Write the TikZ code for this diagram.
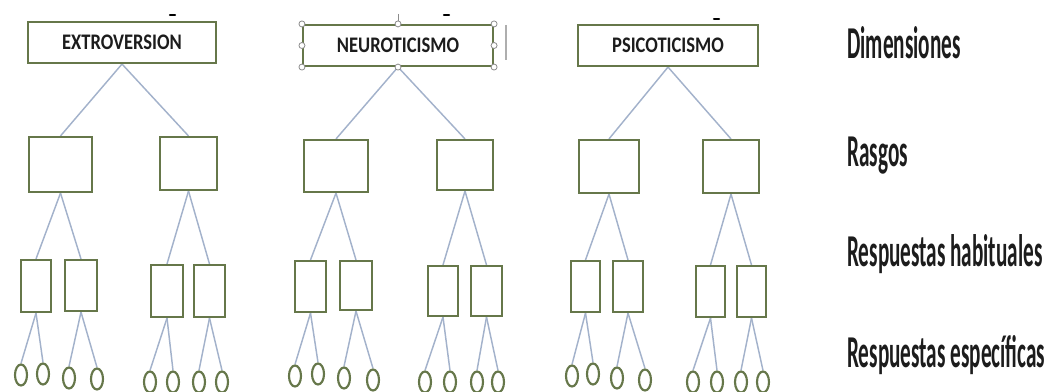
\documentclass[tikz,border=0pt]{standalone}
\usepackage{fontspec}
\setmainfont{Carlito}
\usetikzlibrary{shapes.geometric,backgrounds}
\definecolor{boxgreen}{HTML}{66774A}
\definecolor{connblue}{HTML}{A3B2CB}
\definecolor{txtdark}{HTML}{1C1C1C}
\definecolor{handlegray}{HTML}{8C8C8C}
\newcommand{\mkrect}[6][]{\node[hbox,#1, minimum width={(#5-#3)*0.75pt}, minimum height={(#6-#4)*0.75pt}] (#2) at ({(#3+#5)/2},{(#4+#6)/2}) {};}
\newcommand{\mkdim}[6]{\node[dimbox, minimum width={(#4-#2)*0.75pt}, minimum height={(#5-#3)*0.75pt}] (#1) at ({(#2+#4)/2},{(#3+#5)/2}) {\scalebox{1}[1.2]{#6}};}
\newcommand{\mkoval}[3]{\node[oval] (#1) at (#2,#3) {};}
\begin{document}
\begin{tikzpicture}[x=0.75pt,y=-0.75pt,
  hbox/.style={draw=boxgreen, line width=1.6pt, fill=white, rectangle, inner sep=0pt},
  dimbox/.style={hbox, text=txtdark, font=\fontsize{13.9pt}{16pt}\selectfont\bfseries},
  oval/.style={draw=boxgreen, line width=1.6pt, fill=white, ellipse, inner sep=0pt, minimum width=9pt, minimum height=15.8pt},
  conn/.style={draw=connblue, line width=1.1pt},
  lab/.style={anchor=base west, inner sep=0pt, text=txtdark, font=\fontsize{15.9pt}{20pt}\selectfont\bfseries},
  tickmark/.style={line width=1.6pt, line cap=round, black},
  handle/.style={circle, draw=handlegray, fill=white, line width=0.6pt, inner sep=0pt, minimum size=4.5pt}]
\useasboundingbox (0,0) rectangle (1057,392);
% ---------------- group 1
\mkdim{g1d}{28}{22}{216}{63}{EXTROVERSION}
\mkrect{g1t1}{29}{137}{92}{192}
\mkrect{g1t2}{160}{137}{217}{190}
\mkrect{g1h1}{21}{260}{51}{312}
\mkrect{g1h2}{65}{260}{97}{311}
\mkrect{g1h3}{151}{265}{183}{317}
\mkrect{g1h4}{194}{265}{225}{317}
\mkoval{g1o1}{21}{375}
\mkoval{g1o2}{43}{374}
\mkoval{g1o3}{69}{378}
\mkoval{g1o4}{97}{379}
\mkoval{g1o5}{150}{382}
\mkoval{g1o6}{173}{382}
\mkoval{g1o7}{199}{382}
\mkoval{g1o8}{222}{382}
% ---------------- group 2
\mkdim{g2d}{303}{25}{493}{66}{NEUROTICISMO}
\mkrect{g2t1}{304}{140}{368}{192}
\mkrect{g2t2}{437}{140}{493}{190}
\mkrect{g2h1}{295}{261}{326}{312}
\mkrect{g2h2}{340}{261}{372}{310}
\mkrect{g2h3}{428}{266}{458}{316}
\mkrect{g2h4}{471}{266}{502}{316}
\mkoval{g2o1}{295}{376}
\mkoval{g2o2}{318}{374}
\mkoval{g2o3}{344}{378}
\mkoval{g2o4}{373}{380}
\mkoval{g2o5}{425}{382}
\mkoval{g2o6}{450}{382}
\mkoval{g2o7}{477}{382}
\mkoval{g2o8}{498}{382}
% ---------------- group 3
\mkdim{g3d}{578}{25}{758}{66}{PSICOTICISMO}
\mkrect{g3t1}{579}{140}{639}{193}
\mkrect{g3t2}{703}{140}{759}{193}
\mkrect{g3h1}{571}{261}{600}{312}
\mkrect{g3h2}{613}{261}{643}{312}
\mkrect{g3h3}{696}{266}{725}{317}
\mkrect{g3h4}{737}{266}{766}{317}
\mkoval{g3o1}{572}{376}
\mkoval{g3o2}{593}{374}
\mkoval{g3o3}{617}{378}
\mkoval{g3o4}{645}{380}
\mkoval{g3o5}{693}{382}
\mkoval{g3o6}{717}{382}
\mkoval{g3o7}{741}{382}
\mkoval{g3o8}{763}{382}
% ---------------- connectors
\begin{scope}[on background layer]
\foreach \g in {1,2,3}{
  \draw[conn] (g\g d.south) -- (g\g t1.north);
  \draw[conn] (g\g d.south) -- (g\g t2.north);
  \draw[conn] (g\g t1.south) -- (g\g h1.north);
  \draw[conn] (g\g t1.south) -- (g\g h2.north);
  \draw[conn] (g\g t2.south) -- (g\g h3.north);
  \draw[conn] (g\g t2.south) -- (g\g h4.north);
  \draw[conn] (g\g h1.south) -- (g\g o1.north);
  \draw[conn] (g\g h1.south) -- (g\g o2.north);
  \draw[conn] (g\g h2.south) -- (g\g o3.north);
  \draw[conn] (g\g h2.south) -- (g\g o4.north);
  \draw[conn] (g\g h3.south) -- (g\g o5.north);
  \draw[conn] (g\g h3.south) -- (g\g o6.north);
  \draw[conn] (g\g h4.south) -- (g\g o7.north);
  \draw[conn] (g\g h4.south) -- (g\g o8.north);
}
\end{scope}
% ---------------- small marks above the dimension boxes
\draw[tickmark] (170,15) -- (175,15);
\draw[tickmark] (444,15) -- (449,15);
\draw[tickmark] (714,19) -- (719,19);
% ---------------- selection handles on NEUROTICISMO
\draw[handlegray, line width=0.6pt] (398,14) -- (g2d.north);
\draw[handlegray!70, line width=0.8pt] (506,25) -- (506,60);
\foreach \a in {north west,north,north east,west,east,south west,south,south east}{
  \node[handle] at (g2d.\a) {};
}
% ---------------- level labels
\node[lab] (l1) at (847,59) {\scalebox{1}[2.15]{Dimensiones}};
\node[lab] (l2) at (847,167) {\scalebox{1}[2.15]{Rasgos}};
\node[lab] (l3) at (847,267) {\scalebox{1}[2.15]{Respuestas habituales}};
\node[lab] (l4) at (847,367) {\scalebox{1}[2.15]{Respuestas específicas}};
\end{tikzpicture}
\end{document}
